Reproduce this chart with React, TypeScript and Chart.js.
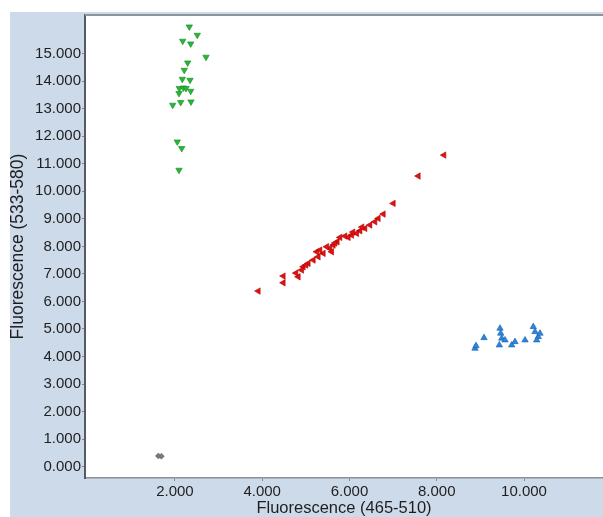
import { useEffect, useRef } from "react";
import { Chart, registerables } from "chart.js";

Chart.register(...registerables);

const xTicks = [2000, 4000, 6000, 8000, 10000];
const yTicks = [0, 1000, 2000, 3000, 4000, 5000, 6000, 7000, 8000, 9000, 10000, 11000, 12000, 13000, 14000, 15000];

const greenX = [2330, 2513, 2179, 2362, 2713, 2293, 2215, 2170, 2346, 2101, 2193, 2254, 2362, 2094, 1950, 2133, 2369, 2055, 2156, 2094];
const greenY = [15973, 15671, 15454, 15356, 14873, 14666, 14401, 14074, 14037, 13736, 13758, 13736, 13638, 13555, 13130, 13228, 13250, 11797, 11557, 10770];

const redX = [8166, 7578, 7005, 6776, 6661, 6585, 6471, 6356, 6242, 6166, 6051, 5974, 5898, 5783, 5721, 5630, 5554, 5479, 5593, 5401, 5249, 5286, 5172, 5057, 4942, 4906, 4828, 4484, 4484, 3911, 5325, 5669, 6081, 6287, 5004, 4775];
const redY = [11314, 10552, 9560, 9172, 9016, 8892, 8773, 8653, 8565, 8471, 8409, 8326, 8373, 8326, 8166, 8046, 7926, 7985, 7803, 7745, 7803, 7621, 7502, 7382, 7258, 7139, 6895, 6921, 6677, 6376, 7865, 8119, 8518, 8700, 7320, 7030];

const blueX = [8877, 8900, 9083, 9450, 9466, 9489, 9434, 9564, 9718, 9793, 10023, 10213, 10252, 10327, 10366, 10291];
const blueY = [4295, 4390, 4680, 5022, 4840, 4659, 4415, 4597, 4415, 4535, 4597, 5080, 4898, 4717, 4840, 4597];

const grayX = [1620, 1690];
const grayY = [390, 380];

const pts = (xs: number[], ys: number[]) => xs.map((x, i) => ({ x, y: ys[i] }));

const FONT = "'Liberation Sans', Arial, sans-serif";

const panelPlugin = {
  id: "panel",
  beforeDraw(chart: any) {
    const { ctx, chartArea: a, width, height } = chart;
    ctx.save();
    ctx.fillStyle = "#ffffff";
    ctx.fillRect(0, 0, width, height);
    ctx.fillStyle = "#cddaea";
    ctx.fillRect(10, 12, width - 10, height - 12);
    ctx.fillStyle = "#ffffff";
    ctx.fillRect(a.left, a.top, width - a.left, a.bottom - a.top);
    ctx.restore();
  },
  afterDraw(chart: any) {
    const { ctx, chartArea: a, width } = chart;
    ctx.save();
    ctx.strokeStyle = "#8d949b";
    ctx.lineWidth = 2;
    ctx.beginPath();
    ctx.moveTo(a.left, a.top);
    ctx.lineTo(width, a.top);
    ctx.stroke();
    ctx.restore();
  },
};

export default function App() {
  const ref = useRef<HTMLCanvasElement>(null);
  useEffect(() => {
    if (!ref.current) return;
    const chart = new Chart(ref.current, {
      type: "scatter",
      data: {
        datasets: [
          {
            data: pts(grayX, grayY),
            pointStyle: "rectRot",
            pointRadius: 3,
            backgroundColor: "#7a7a7a",
            borderColor: "#666666",
            borderWidth: 0.5,
          },
          {
            data: pts(greenX, greenY),
            pointStyle: "triangle",
            rotation: 180,
            pointRadius: 3.7,
            backgroundColor: "#25b835",
            borderColor: "#178a25",
            borderWidth: 0.6,
          },
          {
            data: pts(redX, redY),
            pointStyle: "triangle",
            rotation: 270,
            pointRadius: 3.7,
            backgroundColor: "#e21212",
            borderColor: "#b00000",
            borderWidth: 0.6,
          },
          {
            data: pts(blueX, blueY),
            pointStyle: "triangle",
            rotation: 0,
            pointRadius: 3.7,
            backgroundColor: "#2b86dc",
            borderColor: "#1760b0",
            borderWidth: 0.6,
          },
        ] as any,
      },
      options: {
        animation: false,
        responsive: false,
        devicePixelRatio: 1,
        layout: { autoPadding: false, padding: { top: 15, left: 0, right: 0, bottom: 0 } },
        plugins: { legend: { display: false }, tooltip: { enabled: false } },
        scales: {
          x: {
            type: "linear",
            min: -60,
            max: 11810,
            afterBuildTicks: (s: any) => {
              s.ticks = xTicks.map((v) => ({ value: v }));
            },
            afterFit: (s: any) => {
              s.height = 39;
              s.paddingLeft = 0;
              s.paddingRight = 0;
            },
            grid: { drawOnChartArea: false, drawTicks: true, tickLength: 3, color: "#888888" },
            border: { display: true, color: "#8a9096", width: 1.5 },
            ticks: {
              font: { family: FONT, size: 15 },
              color: "#1e1e1e",
              padding: 2,
              maxRotation: 0,
              autoSkip: false,
              callback: (v: any) => (Number(v) / 1000).toFixed(3),
            },
            title: {
              display: true,
              text: "Fluorescence (465-510)",
              font: { family: FONT, size: 16.5 },
              color: "#1e1e1e",
              padding: { top: 0, bottom: -1 },
            },
          },
          y: {
            type: "linear",
            min: -410,
            max: 16400,
            afterBuildTicks: (s: any) => {
              s.ticks = yTicks.map((v) => ({ value: v }));
            },
            afterFit: (s: any) => {
              s.width = 85;
            },
            grid: { drawOnChartArea: false, drawTicks: true, tickLength: 3, color: "#888888" },
            border: { display: true, color: "#555b62", width: 2 },
            ticks: {
              font: { family: FONT, size: 15 },
              color: "#1e1e1e",
              padding: 1,
              autoSkip: false,
              callback: (v: any) => (Number(v) / 1000).toFixed(3),
            },
            title: {
              display: true,
              text: "Fluorescence (533-580)",
              font: { family: FONT, size: 17.5 },
              color: "#1e1e1e",
              padding: { top: 8, bottom: 0 },
            },
          },
        },
      },
      plugins: [panelPlugin],
    });
    return () => chart.destroy();
  }, []);
  return (
    <canvas
      ref={ref}
      width={603}
      height={517}
      style={{ position: "absolute", left: 0, top: 0, width: 603, height: 517 }}
    />
  );
}
